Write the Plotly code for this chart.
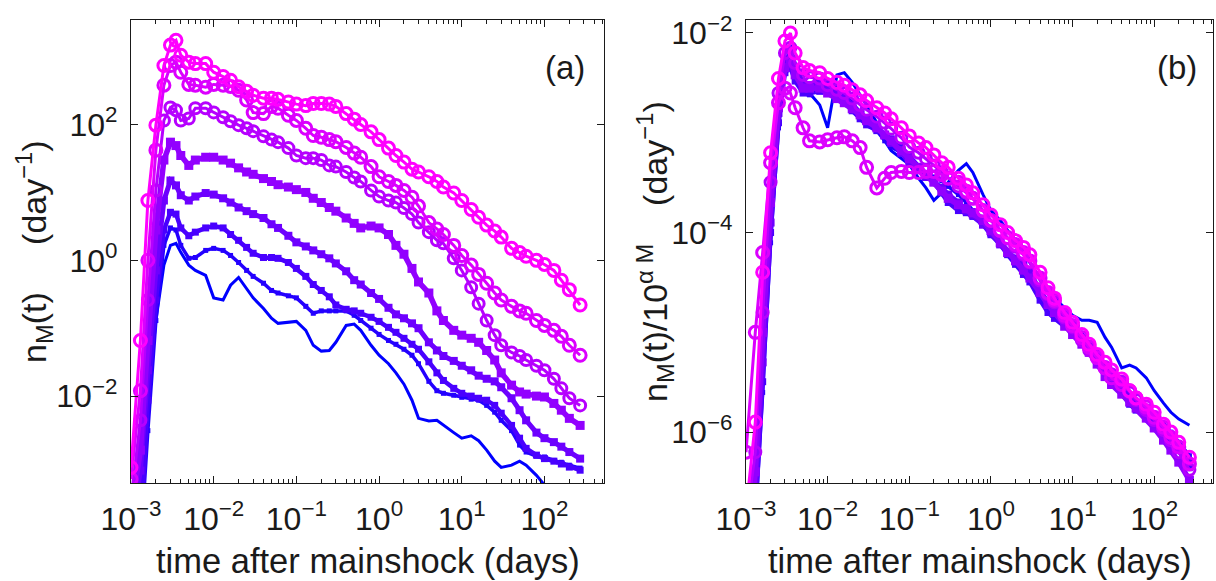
import plotly.graph_objects as go

# ---------------- data ----------------
t_days = [0.001, 0.0013, 0.0016, 0.002, 0.0025, 0.003, 0.0035, 0.004, 0.005, 0.006,
          0.008, 0.01, 0.013, 0.016, 0.02, 0.025, 0.03, 0.04, 0.05, 0.06,
          0.08, 0.1, 0.13, 0.16, 0.2, 0.25, 0.3, 0.4, 0.5, 0.6,
          0.8, 1, 1.3, 1.6, 2, 2.5, 3, 4, 5, 6,
          8, 10, 13, 16, 20, 25, 30, 40, 50, 60,
          80, 100, 130, 160, 200, 270]

# panel (a): n_M(t)  (day^-1), curves ordered from largest (magenta) to smallest (blue) magnitude
rate_1 = [8.9e-4, 0.066, 7.6, 98, 740, 1480, 1740, 1050, 830, 790, 790, 590, 510, 450, 360, 310, 270, 245, 245, 235,
          215, 200, 190, 205, 205, 200, 185, 145, 120, 100, 78, 60, 45, 35, 28, 22, 20, 17, 14.5, 12,
          9.8, 7.6, 5.6, 4.3, 3.3, 2.7, 2.2, 1.5, 1.3, 1.15, 1.0, 0.87, 0.71, 0.51, 0.37, 0.22]
rate_2 = [6e-4, 0.012, 1.0, 42, 380, 740, 830, 590, 390, 380, 355, 390, 380, 365, 320, 230, 150, 145, 185, 174,
          137, 115, 88, 69, 65, 60, 56, 46, 38, 33, 24, 17, 14.5, 12.7, 10.7, 8.5, 6.3, 3.6, 2.9, 2.4,
          1.66, 1.18, 0.85, 0.62, 0.46, 0.33, 0.26, 0.21, 0.18, 0.166, 0.13, 0.11, 0.093, 0.076, 0.056, 0.040]
rate_3 = [3e-4, 0.0044, 0.26, 10.7, 115, 178, 162, 115, 123, 174, 174, 151, 128, 112, 98, 88, 80, 67, 60, 55,
          45, 35, 32, 32, 30, 25, 24, 20, 16.6, 14.5, 10.7, 8.7, 7.6, 7.1, 5.9, 4.8, 3.6, 2.6, 1.97, 1.78,
          1.07, 0.71, 0.40, 0.23, 0.13, 0.079, 0.056, 0.044, 0.039, 0.034, 0.028, 0.024, 0.018, 0.013, 0.0093, 0.0073]
rate_4 = [2e-4, 0.0016, 0.066, 2.8, 30, 55, 49, 35, 25, 30, 33, 33, 30, 27, 23, 20, 18.5, 16, 14.5, 13,
          12, 11, 10, 8.2, 7.1, 6.0, 5.3, 4.2, 3.5, 3.0, 3.2, 3.0, 2.4, 1.66, 1.23, 0.76, 0.48, 0.33, 0.18, 0.13,
          0.093, 0.079, 0.071, 0.062, 0.047, 0.034, 0.022, 0.0145, 0.0115, 0.0107, 0.0100, 0.0097, 0.0078, 0.0062, 0.0047, 0.0037]
rate_5 = [1e-4, 8e-4, 0.024, 0.71, 7.6, 15, 12.7, 9.1, 7.6, 8.7, 9.8, 9.3, 8.2, 7.1, 6.0, 5.3, 4.8, 4.2, 3.4, 3.0,
          2.3, 1.84, 1.6, 1.4, 1.23, 1.07, 0.90, 0.69, 0.51, 0.44, 0.33, 0.27, 0.20, 0.16, 0.14, 0.118, 0.100, 0.062, 0.047, 0.039,
          0.033, 0.028, 0.024, 0.020, 0.018, 0.0165, 0.0135, 0.0093, 0.0062, 0.0044, 0.0029, 0.0024, 0.0021, 0.0018, 0.0015, 0.0012]
rate_6 = [5e-5, 1e-4, 0.0087, 0.26, 2.8, 5.1, 4.8, 3.0, 2.3, 2.6, 3.0, 3.2, 3.0, 2.4, 1.97, 1.55, 1.27, 1.1, 1.1, 1.07,
          0.93, 0.76, 0.58, 0.44, 0.36, 0.29, 0.22, 0.19, 0.18, 0.166, 0.145, 0.126, 0.103, 0.087, 0.071, 0.058, 0.049, 0.032, 0.022, 0.017,
          0.013, 0.011, 0.010, 0.0093, 0.0087, 0.0073, 0.0056, 0.0037, 0.0024, 0.0017, 0.00135, 0.0012, 0.0011, 0.0010, 0.0009, 0.00081]
rate_7 = [3e-5, 6e-5, 0.0031, 0.13, 1.66, 3.0, 2.8, 1.66, 1.07, 1.1, 1.4, 1.5, 1.4, 1.18, 0.93, 0.71, 0.58, 0.46, 0.36, 0.33,
          0.30, 0.28, 0.21, 0.166, 0.18, 0.18, 0.18, 0.18, 0.155, 0.13, 0.10, 0.081, 0.066, 0.058, 0.049, 0.040, 0.030, 0.0165, 0.012, 0.011,
          0.0103, 0.0096, 0.009, 0.0087, 0.0073, 0.0058, 0.0044, 0.0031, 0.0019, 0.0015, 0.0013, 0.00127, 0.00113, 0.00106, 0.00096, 0.00087]
rate_8 = [1e-5, 2e-4, 0.0087, 0.13, 0.85, 1.66, 1.78, 1.31, 0.85, 0.71, 0.60, 0.28, 0.26, 0.43, 0.56, 0.39, 0.28, 0.195, 0.14, 0.118,
          0.122, 0.126, 0.093, 0.056, 0.046, 0.047, 0.062, 0.11, 0.115, 0.093, 0.056, 0.040, 0.030, 0.022, 0.015, 0.0087, 0.0047, 0.0043, 0.0044, 0.0037,
          0.0029, 0.0024, 0.0026, 0.0022, 0.0016, 0.0011, 0.00089, 0.00096, 0.0011, 0.00096, 0.00068, 0.00049, 0.00033, 0.00028, 0.00025, 0.00022]

# panel (b): n_M(t)/10^(alpha M)
norm_1 = [1.6e-7, 1.26e-6, 4.0e-5, 6.3e-4, 3.5e-3, 8.3e-3, 1.0e-2, 6.3e-3, 4.5e-3, 4.2e-3, 4.0e-3, 3.5e-3, 3.2e-3, 3.0e-3, 2.7e-3, 2.4e-3, 2.1e-3, 1.78e-3, 1.58e-3, 1.38e-3,
          1.12e-3, 9.3e-4, 7.9e-4, 7.1e-4, 6.0e-4, 5.0e-4, 4.5e-4, 3.5e-4, 3.0e-4, 2.5e-4, 1.9e-4, 1.5e-4, 1.2e-4, 1.0e-4, 8.3e-5, 7.1e-5, 6.0e-5, 4.0e-5, 2.8e-5, 2.2e-5,
          1.58e-5, 1.26e-5, 9.5e-6, 7.6e-6, 6.0e-6, 5.0e-6, 4.2e-6, 3.4e-6, 2.6e-6, 2.2e-6, 1.9e-6, 1.58e-6, 1.2e-6, 1.0e-6, 7.9e-7, 5.6e-7]
norm_2 = [6.3e-7, 1.0e-5, 6.3e-5, 5.0e-4, 2.0e-3, 2.8e-3, 2.5e-3, 1.78e-3, 1.12e-3, 8.3e-4, 8.1e-4, 8.5e-4, 8.9e-4, 9.1e-4, 8.3e-4, 7.1e-4, 4.5e-4, 2.8e-4, 3.5e-4, 4.0e-4,
          4.1e-4, 4.0e-4, 4.0e-4, 4.1e-4, 4.1e-4, 3.8e-4, 3.5e-4, 3.2e-4, 2.6e-4, 2.2e-4, 1.66e-4, 1.32e-4, 1.05e-4, 8.9e-5, 7.6e-5, 6.3e-5, 5.2e-5, 3.5e-5, 2.5e-5, 2.1e-5,
          1.48e-5, 1.17e-5, 8.9e-6, 7.1e-6, 5.6e-6, 4.4e-6, 3.5e-6, 3.0e-6, 2.6e-6, 2.2e-6, 1.78e-6, 1.41e-6, 1.12e-6, 8.9e-7, 7.1e-7, 4.8e-7]
norm_3 = [1.26e-7, 6.3e-7, 1.58e-5, 3.2e-4, 2.5e-3, 6.3e-3, 7.1e-3, 5.0e-3, 3.8e-3, 3.6e-3, 3.5e-3, 3.0e-3, 2.7e-3, 2.5e-3, 2.2e-3, 1.9e-3, 1.7e-3, 1.45e-3, 1.26e-3, 1.1e-3,
          8.9e-4, 7.2e-4, 6.3e-4, 5.5e-4, 4.7e-4, 4.0e-4, 3.5e-4, 2.9e-4, 2.5e-4, 2.2e-4, 1.66e-4, 1.32e-4, 1.05e-4, 8.7e-5, 7.2e-5, 6.0e-5, 5.0e-5, 3.3e-5, 2.4e-5, 2.0e-5,
          1.41e-5, 1.12e-5, 8.3e-6, 6.6e-6, 5.5e-6, 4.5e-6, 3.8e-6, 3.2e-6, 2.5e-6, 2.1e-6, 1.66e-6, 1.32e-6, 1.05e-6, 8.3e-7, 6.3e-7, 4.2e-7]
norm_4 = [6.3e-8, 4.0e-7, 1.0e-5, 2.0e-4, 1.78e-3, 4.5e-3, 5.0e-3, 3.8e-3, 2.8e-3, 2.8e-3, 2.8e-3, 2.5e-3, 2.2e-3, 2.0e-3, 1.74e-3, 1.51e-3, 1.32e-3, 1.12e-3, 9.5e-4, 8.3e-4,
          6.6e-4, 5.5e-4, 4.5e-4, 3.8e-4, 3.2e-4, 2.6e-4, 2.2e-4, 1.9e-4, 1.74e-4, 1.58e-4, 1.32e-4, 1.05e-4, 7.9e-5, 6.3e-5, 5.2e-5, 4.2e-5, 3.5e-5, 2.5e-5, 1.9e-5, 1.58e-5,
          1.15e-5, 9.5e-6, 7.6e-6, 6.3e-6, 4.8e-6, 3.6e-6, 3.0e-6, 2.4e-6, 2.0e-6, 1.74e-6, 1.38e-6, 1.1e-6, 8.3e-7, 6.6e-7, 5.0e-7, 3.3e-7]
norm_5 = [5e-8, 2.5e-7, 5.0e-6, 1.26e-4, 1.58e-3, 5.0e-3, 6.3e-3, 4.5e-3, 3.2e-3, 3.0e-3, 3.2e-3, 3.0e-3, 2.6e-3, 2.3e-3, 1.9e-3, 1.58e-3, 1.38e-3, 1.15e-3, 9.5e-4, 7.9e-4,
          6.3e-4, 5.0e-4, 4.2e-4, 3.6e-4, 3.2e-4, 2.8e-4, 2.4e-4, 2.0e-4, 1.66e-4, 1.51e-4, 1.2e-4, 1.0e-4, 7.6e-5, 6.3e-5, 5.5e-5, 4.8e-5, 4.0e-5, 2.6e-5, 2.0e-5, 1.66e-5,
          1.26e-5, 1.05e-5, 8.7e-6, 7.2e-6, 5.8e-6, 4.6e-6, 3.6e-6, 2.8e-6, 2.2e-6, 1.9e-6, 1.58e-6, 1.32e-6, 1.05e-6, 8.7e-7, 6.9e-7, 5.0e-7]
norm_6 = [3.2e-8, 1.6e-7, 3.2e-6, 1.0e-4, 1.26e-3, 4.0e-3, 4.5e-3, 3.3e-3, 2.5e-3, 2.5e-3, 2.6e-3, 2.5e-3, 2.3e-3, 2.0e-3, 1.66e-3, 1.38e-3, 1.2e-3, 1.05e-3, 9.5e-4, 8.7e-4,
          7.2e-4, 5.8e-4, 4.6e-4, 3.8e-4, 3.2e-4, 2.5e-4, 2.0e-4, 1.66e-4, 1.58e-4, 1.45e-4, 1.2e-4, 9.5e-5, 7.6e-5, 6.0e-5, 4.8e-5, 3.8e-5, 3.2e-5, 2.1e-5, 1.58e-5, 1.38e-5,
          1.15e-5, 1.0e-5, 8.3e-6, 6.9e-6, 5.2e-6, 4.0e-6, 3.2e-6, 2.4e-6, 1.9e-6, 1.66e-6, 1.45e-6, 1.26e-6, 1.05e-6, 8.7e-7, 6.6e-7, 4.4e-7]
norm_7 = [2.5e-8, 1.26e-7, 2.5e-6, 7.9e-5, 1.12e-3, 4.5e-3, 5.6e-3, 4.0e-3, 2.6e-3, 2.4e-3, 2.8e-3, 3.2e-3, 3.0e-3, 2.5e-3, 2.0e-3, 1.58e-3, 1.32e-3, 1.05e-3, 8.3e-4, 7.2e-4,
          6.3e-4, 5.5e-4, 4.6e-4, 4.0e-4, 3.6e-4, 3.3e-4, 2.9e-4, 2.4e-4, 2.0e-4, 1.66e-4, 1.26e-4, 1.0e-4, 7.9e-5, 6.6e-5, 5.5e-5, 4.6e-5, 3.6e-5, 2.4e-5, 1.82e-5, 1.58e-5,
          1.32e-5, 1.15e-5, 9.5e-6, 7.9e-6, 6.3e-6, 4.8e-6, 3.8e-6, 2.9e-6, 2.3e-6, 2.0e-6, 1.66e-6, 1.45e-6, 1.2e-6, 1.0e-6, 7.9e-7, 5.8e-7]
norm_8 = [1.6e-8, 3.2e-7, 6.3e-6, 2.5e-4, 2.5e-3, 6.3e-3, 7.6e-3, 5.0e-3, 3.2e-3, 2.5e-3, 1.9e-3, 1.12e-3, 3.8e-3, 4.0e-3, 3.2e-3, 2.4e-3, 1.9e-3, 1.26e-3, 8.3e-4, 6.6e-4,
          5.5e-4, 4.8e-4, 3.5e-4, 2.8e-4, 2.1e-4, 2.5e-4, 3.2e-4, 4.2e-4, 4.9e-4, 4.0e-4, 2.4e-4, 1.66e-4, 1.32e-4, 1.05e-4, 7.9e-5, 6.3e-5, 5.0e-5, 3.5e-5, 2.6e-5, 2.2e-5,
          1.74e-5, 1.48e-5, 1.32e-5, 1.32e-5, 1.26e-5, 8.9e-6, 7.1e-6, 4.4e-6, 4.7e-6, 4.4e-6, 3.5e-6, 2.6e-6, 1.95e-6, 1.58e-6, 1.35e-6, 1.17e-6]

rates = [rate_1, rate_2, rate_3, rate_4, rate_5, rate_6, rate_7, rate_8]
norms = [norm_1, norm_2, norm_3, norm_4, norm_5, norm_6, norm_7, norm_8]

x_tick_vals = [1e-3, 1e-2, 1e-1, 1e0, 1e1, 1e2]
x_tick_text = ["10<sup>\u22123</sup>", "10<sup>\u22122</sup>", "10<sup>\u22121</sup>",
               "10<sup>0</sup>", "10<sup>1</sup>", "10<sup>2</sup>"]
ya_tick_vals = [1e-2, 1e0, 1e2]
ya_tick_text = ["10<sup>\u22122</sup>", "10<sup>0</sup>", "10<sup>2</sup>"]
yb_tick_vals = [1e-6, 1e-4, 1e-2]
yb_tick_text = ["10<sup>\u22126</sup>", "10<sup>\u22124</sup>", "10<sup>\u22122</sup>"]

# ---------------- styling ----------------
colors = ["#FF00FF", "#DB00FF", "#B600FF", "#9200FF", "#6D00FF", "#4900FF", "#2400FF", "#0000FF"]
line_widths = [3, 3, 3, 5.5, 5, 4.5, 3.5, 3]
markers = [
    dict(symbol="circle-open", size=12, line=dict(width=3)),
    dict(symbol="circle-open", size=12, line=dict(width=3)),
    dict(symbol="circle-open", size=11, line=dict(width=3)),
    dict(symbol="square", size=9, line=dict(width=0)),
    dict(symbol="square", size=8, line=dict(width=0)),
    dict(symbol="square", size=7, line=dict(width=0)),
    dict(symbol="square", size=5, line=dict(width=0)),
    None,
]

FONT = "Liberation Sans, Arial, Helvetica, sans-serif"
TXT = "#1a1a1a"

fig = go.Figure()
for i in reversed(range(8)):
    for ys, xa, ya in ((rates[i], "x", "y"), (norms[i], "x2", "y2")):
        m = markers[i]
        kw = dict(x=t_days, y=ys, xaxis=xa, yaxis=ya, showlegend=False, hoverinfo="skip",
                  line=dict(color=colors[i], width=line_widths[i]))
        if m is None:
            kw["mode"] = "lines"
        else:
            mk = dict(m)
            mk["color"] = colors[i]
            mk["line"] = dict(m["line"], color=colors[i])
            kw["mode"] = "lines+markers"
            kw["marker"] = mk
        fig.add_trace(go.Scatter(**kw))

W, H = 1216, 581
L1, R1 = 131, 604
L2, R2 = 746, 1213
TOP, BOT = 20, 483

minor_vals = [m * 10.0 ** e for e in range(-3, 3) for m in range(2, 10)]

def xaxis_common(dom, anchor):
    return dict(type="log", domain=[dom[0] / W, dom[1] / W], anchor=anchor, automargin=False,
                range=[-3, 2.72], tickvals=x_tick_vals, ticktext=x_tick_text,
                ticks="inside", ticklen=7, tickwidth=1.3, tickcolor=TXT,
                minor=dict(tickvals=minor_vals, ticks="inside", ticklen=4, tickwidth=1.1, tickcolor=TXT),
                showline=True, linecolor=TXT, linewidth=1.3, mirror="allticks",
                showgrid=False, zeroline=False,
                tickfont=dict(family=FONT, size=32, color=TXT), ticklabelstandoff=7)

def yaxis_common(rng, tv, tt, anchor):
    return dict(type="log", domain=[1 - BOT / H, 1 - TOP / H], anchor=anchor, automargin=False,
                range=rng, tickvals=tv, ticktext=tt,
                ticks="inside", ticklen=7, tickwidth=1.3, tickcolor=TXT,
                showline=True, linecolor=TXT, linewidth=1.3, mirror="allticks",
                showgrid=False, zeroline=False,
                tickfont=dict(family=FONT, size=32, color=TXT), ticklabelstandoff=6)

NB = "\u00a0"
fig.update_layout(
    width=W, height=H, margin=dict(l=0, r=0, t=0, b=0, autoexpand=False),
    paper_bgcolor="white", plot_bgcolor="white",
    xaxis=xaxis_common((L1, R1), "y"),
    yaxis=yaxis_common([-3.28, 3.54], ya_tick_vals, ya_tick_text, "x"),
    xaxis2=xaxis_common((L2, R2), "y2"),
    yaxis2=yaxis_common([-6.51, -1.87], yb_tick_vals, yb_tick_text, "x2"),
    annotations=[
        dict(text="time after mainshock (days)", x=(L1 + R1) / 2 / W, y=1 - 561 / H,
             xref="paper", yref="paper", showarrow=False, xanchor="center", yanchor="middle",
             font=dict(family=FONT, size=34.5, color=TXT)),
        dict(text="time after mainshock (days)", x=(L2 + R2) / 2 / W, y=1 - 561 / H,
             xref="paper", yref="paper", showarrow=False, xanchor="center", yanchor="middle",
             font=dict(family=FONT, size=34.5, color=TXT)),
        dict(text="n<sub>M</sub>(t)" + NB * 5 + "(day<sup>\u22121</sup>)", x=34 / W, y=1 - 252 / H,
             xref="paper", yref="paper", showarrow=False, xanchor="center", yanchor="middle",
             textangle=-90, font=dict(family=FONT, size=34, color=TXT)),
        dict(text="n<sub>M</sub>(t)/10<sup>\u03b1 M</sup>" + NB * 4 + "(day<sup>\u22121</sup>)", x=655 / W, y=1 - 252 / H,
             xref="paper", yref="paper", showarrow=False, xanchor="center", yanchor="middle",
             textangle=-90, font=dict(family=FONT, size=34, color=TXT)),
        dict(text="(a)", x=565 / W, y=1 - 67 / H, xref="paper", yref="paper", showarrow=False,
             xanchor="center", yanchor="middle", font=dict(family=FONT, size=33, color=TXT)),
        dict(text="(b)", x=1177 / W, y=1 - 67 / H, xref="paper", yref="paper", showarrow=False,
             xanchor="center", yanchor="middle", font=dict(family=FONT, size=33, color=TXT)),
    ],
)

fig.write_html("out.html")
